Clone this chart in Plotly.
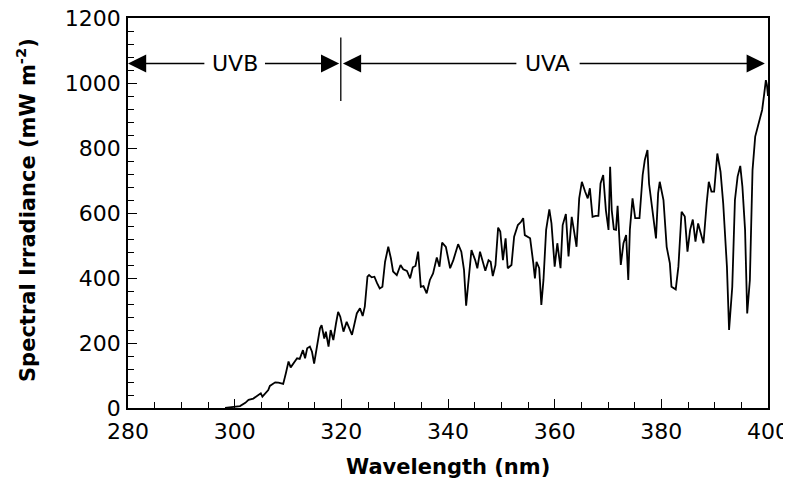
import plotly.graph_objects as go

# wavelength (nm) and spectral irradiance (mW m-2)
wavelength = [
    298.2, 299.7, 301.0, 302.0, 302.6, 303.5, 304.4, 304.9, 305.2, 306.3,
    306.6, 307.6, 308.2, 309.1, 309.6, 310.1, 310.5, 311.0, 311.7, 312.2,
    312.8, 313.2, 313.6, 314.1, 314.5, 314.9, 315.4, 316.0, 316.3, 316.8,
    317.1, 317.6, 318.0, 318.5, 319.0, 319.4, 319.8, 320.4, 321.0, 322.0,
    322.9, 323.5, 324.0, 324.4, 324.9, 325.2, 325.7, 326.2, 326.7, 327.2,
    327.7, 328.2, 328.8, 329.3, 329.7, 330.4, 331.1, 331.6, 332.3, 332.9,
    333.4, 333.9, 334.4, 334.9, 335.4, 336.0, 336.6, 337.2, 337.9, 338.4,
    338.9, 339.6, 340.4, 341.0, 341.9, 342.5, 343.0, 343.4, 343.8, 344.4,
    345.1, 345.5, 346.0, 346.5, 347.0, 347.6, 348.0, 348.4, 348.9, 349.4,
    349.8, 350.3, 350.8, 351.2, 351.9, 352.4, 353.1, 353.7, 354.1, 354.4,
    355.4, 356.0, 356.3, 356.6, 357.1, 357.5, 357.9, 358.4, 359.0, 359.4,
    359.7, 360.0, 360.5, 361.1, 361.5, 362.1, 362.6, 363.2, 363.6, 364.1,
    364.6, 365.1, 365.7, 366.2, 366.6, 367.1, 367.7, 368.2, 368.6, 369.1,
    369.6, 370.1, 370.4, 370.7, 371.1, 371.5, 371.8, 372.4, 372.9, 373.4,
    373.8, 374.1, 374.6, 375.1, 375.9, 376.5, 376.9, 377.4, 377.7, 378.2,
    378.5, 379.0, 379.4, 379.7, 380.4, 381.0, 381.6, 381.9, 382.7, 383.2,
    383.8, 384.4, 384.9, 385.4, 385.9, 386.4, 386.9, 387.4, 387.9, 388.5,
    388.9, 389.4, 389.9, 390.5, 391.1, 391.6, 392.3, 392.7, 393.3, 393.8,
    394.3, 394.8, 395.2, 395.7, 396.1, 396.6, 397.1, 397.6, 398.2, 398.7,
    398.9, 399.3, 399.6, 399.8, 400.0,
]
irradiance = [
    0, 4, 6, 16, 25, 29, 40, 45, 35, 55,
    68, 79, 78, 74, 107, 143, 125, 137, 153, 151,
    178, 153, 184, 189, 173, 137, 189, 245, 255, 214,
    235, 189, 240, 209, 260, 296, 281, 235, 265, 225,
    291, 307, 283, 312, 404, 409, 402, 404, 384, 368,
    373, 450, 496, 460, 420, 409, 440, 427, 422, 399,
    433, 437, 481, 373, 375, 353, 394, 414, 463, 435,
    509, 496, 430, 455, 504, 481, 425, 315, 384, 486,
    455, 430, 481, 455, 422, 455, 450, 406, 440, 555,
    543, 455, 522, 430, 440, 527, 563, 573, 584, 532,
    522, 445, 399, 450, 430, 317, 394, 548, 611, 568,
    496, 435, 507, 430, 563, 597, 466, 588, 548, 496,
    645, 696, 666, 645, 676, 588, 591, 591, 691, 717,
    609, 548, 742, 609, 550, 548, 622, 440, 507, 532,
    394, 548, 645, 584, 584, 717, 763, 794, 690, 620,
    594, 522, 661, 696, 640, 496, 445, 373, 365, 435,
    604, 589, 481, 548, 580, 512, 568, 537, 507, 630,
    696, 666, 666, 783, 727, 630, 435, 240, 373, 640,
    712, 745, 681, 548, 291, 394, 732, 835, 876, 912,
    917, 968, 1009, 994, 960,
]

band_names = ['UVB', 'UVA']
band_text_x = [300.0, 358.7]
band_gaps = [(294.6, 305.4), (353.1, 364.4)]
band_ends = [(280.0, 319.6), (320.3, 399.4)]
arrow_y = 1060

fig = go.Figure()
fig.add_trace(go.Scatter(x=wavelength, y=irradiance, mode='lines',
                         line=dict(color='black', width=1.8), showlegend=False))

for name, tx, (g0, g1), (e0, e1) in zip(band_names, band_text_x, band_gaps, band_ends):
    for tail, head in [(g0, e0), (g1, e1)]:
        fig.add_annotation(x=head, y=arrow_y, ax=tail, ay=arrow_y, axref='x', ayref='y',
                           xref='x', yref='y', text='', showarrow=True,
                           arrowhead=2, arrowsize=2.8, arrowwidth=1.3, arrowcolor='black')
    fig.add_annotation(x=tx, y=arrow_y, text=name, showarrow=False,
                       font=dict(family='DejaVu Sans', size=22, color='black'))

fig.add_shape(type='line', x0=319.9, x1=319.9, y0=945, y1=1140,
              line=dict(color='black', width=1.3))

# axis titles as annotations so they can sit where the reference has them
fig.add_annotation(xref='paper', yref='paper', x=0, y=0.5, xshift=-102, yshift=3,
                   xanchor='center', yanchor='middle', textangle=-90, showarrow=False,
                   text='<b>Spectral Irradiance (mW m<sup>-2</sup>)</b>',
                   font=dict(family='DejaVu Sans', size=21, color='black'))
fig.add_annotation(xref='paper', yref='paper', x=0.5, y=0, yshift=-59,
                   xanchor='center', yanchor='middle',
                   showarrow=False, text='<b>Wavelength (nm)</b>',
                   font=dict(family='DejaVu Sans', size=21, color='black'))

fig.update_xaxes(range=[280, 400], dtick=20, ticks='inside', ticklen=9, tickwidth=1.3,
                 tickcolor='black', showline=True, linecolor='black', linewidth=1.5,
                 mirror=True, showgrid=False, zeroline=False, automargin=False,
                 ticklabeloverflow='allow', ticklabelstandoff=3,
                 tickfont=dict(family='DejaVu Sans', size=22, color='black'),
                 minor=dict(dtick=5, ticks='inside', ticklen=6, tickwidth=1.2, tickcolor='black'))
fig.update_yaxes(range=[0, 1200], dtick=200, ticks='inside', ticklen=9, tickwidth=1.3,
                 tickcolor='black', showline=True, linecolor='black', linewidth=1.5,
                 mirror=True, showgrid=False, zeroline=False, ticklabelstandoff=1,
                 automargin=False, ticklabeloverflow='allow',
                 tickfont=dict(family='DejaVu Sans', size=22, color='black'),
                 minor=dict(dtick=40, ticks='inside', ticklen=6, tickwidth=1.2, tickcolor='black'))

# the page body adds an 8px offset, so the figure is a bit smaller than the window
fig.update_layout(width=783, height=478, margin=dict(l=120, r=23, t=10, b=78),
                  plot_bgcolor='white', paper_bgcolor='white')

fig.write_html("out.html")
